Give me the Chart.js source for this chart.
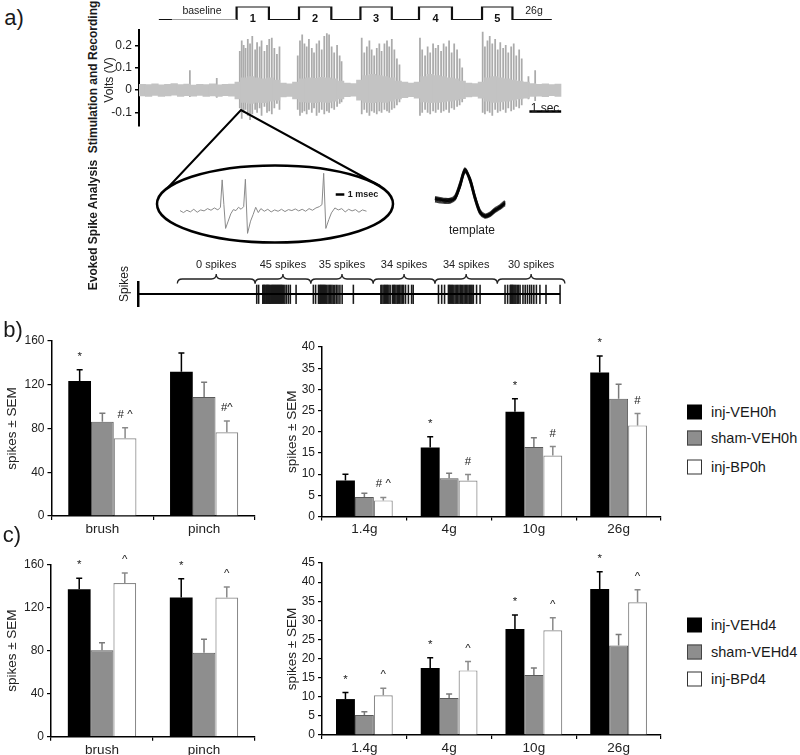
<!DOCTYPE html>
<html><head><meta charset="utf-8">
<script src="https://cdn.jsdelivr.net/npm/chart.js@4.4.1/dist/chart.umd.min.js"></script>
<style>
html,body{margin:0;padding:0;background:#fff;}
#fig{position:relative;width:800px;height:755px;overflow:hidden;font-family:"Liberation Sans",Arial,sans-serif;color:#1a1a1a;}
#fig canvas{position:absolute;}
.t{position:absolute;white-space:nowrap;line-height:1;transform:translate(-50%,-50%);}
.r{transform:translate(-50%,-50%) rotate(-90deg);}
.lg{position:absolute;left:687px;width:15px;height:15px;box-sizing:border-box;transform:translateY(-50%);}
.lt{position:absolute;left:711px;font-size:14.5px;line-height:1;transform:translateY(-50%);white-space:nowrap;}
</style></head><body>
<div id="fig">
<canvas id="cStim" width="423" height="30" style="left:139px;top:0px"></canvas>
<canvas id="cTrace" width="462" height="116" style="left:100px;top:20px"></canvas>
<canvas id="cZoom" width="250" height="145" style="left:150px;top:105px"></canvas>
<canvas id="cTmpl" width="80" height="65" style="left:430px;top:160px"></canvas>
<canvas id="cRaster" width="470" height="52" style="left:100px;top:255px"></canvas>
<canvas id="cB1" width="256" height="210" style="left:0px;top:330px"></canvas>
<canvas id="cB2" width="383" height="210" style="left:280px;top:330px"></canvas>
<canvas id="cC1" width="256" height="205" style="left:0px;top:550px"></canvas>
<canvas id="cC2" width="383" height="205" style="left:280px;top:550px"></canvas>

<div class="t" style="left:14px;top:18px;font-size:22px">a)</div>
<div class="t" style="left:13px;top:330px;font-size:22px">b)</div>
<div class="t" style="left:12px;top:535px;font-size:22px">c)</div>
<div class="t r" style="left:93px;top:77px;font-size:12px;font-weight:bold">Stimulation and Recording</div>
<div class="t r" style="left:109px;top:80px;font-size:12px">Volts (V)</div>
<div class="t r" style="left:93px;top:225px;font-size:12px;font-weight:bold">Evoked Spike Analysis</div>
<div class="t r" style="left:124px;top:284px;font-size:12px">Spikes</div>
<div class="t" style="left:202px;top:10px;font-size:10.5px">baseline</div>
<div class="t" style="left:534px;top:10px;font-size:10.5px">26g</div>
<div class="t" style="left:545px;top:108px;font-size:12px">1 sec</div>
<div class="t" style="left:363px;top:194px;font-size:9px;font-weight:bold">1 msec</div>
<div class="t" style="left:472px;top:230px;font-size:12px">template</div>

<div class="lg" style="top:412px;background:#000"></div><div class="lt" style="top:412px">inj-VEH0h</div>
<div class="lg" style="top:438px;background:#8e8e8e;border:1px solid #444"></div><div class="lt" style="top:438px">sham-VEH0h</div>
<div class="lg" style="top:467px;background:#fff;border:1px solid #333"></div><div class="lt" style="top:467px">inj-BP0h</div>
<div class="lg" style="top:625px;background:#000"></div><div class="lt" style="top:625px">inj-VEHd4</div>
<div class="lg" style="top:652px;background:#8e8e8e;border:1px solid #444"></div><div class="lt" style="top:652px">sham-VEHd4</div>
<div class="lg" style="top:679px;background:#fff;border:1px solid #333"></div><div class="lt" style="top:679px">inj-BPd4</div>
</div>
<script>
Chart.defaults.font.family='"Liberation Sans", Arial, sans-serif';
Chart.defaults.color='#222';

// ================= DATA =================
// panel a: recording trace (seconds, volts)
const voltTicks=[-0.1,0,0.1,0.2];
const noiseBinSec=0.2;
const noiseHi=[0.026,0.024,0.028,0.023,0.026,0.029,0.024,0.027,0.022,0.026,0.025,0.028,0.023,0.026,0.027,
 0.036,0.055,0.060,0.055,0.050,0.055,0.045, 0.031,0.028,
 0.036,0.050,0.055,0.053,0.057,0.055,0.050,0.040, 0.031,0.029,
 0.045,0.065,0.070,0.065,0.060,0.055,0.040, 0.036,0.031,0.036,
 0.060,0.070,0.065,0.060,0.055,0.050,0.040, 0.031,0.029,0.036,
 0.055,0.060,0.055,0.050,0.045,0.040,0.036, 0.029,0.026,0.028,0.025,0.027];
const noiseLo=[-0.026,-0.029,-0.024,-0.028,-0.026,-0.023,-0.029,-0.025,-0.027,-0.024,-0.028,-0.026,-0.029,-0.025,-0.027,
 -0.040,-0.055,-0.060,-0.055,-0.057,-0.050,-0.045, -0.031,-0.028,
 -0.040,-0.053,-0.055,-0.057,-0.053,-0.055,-0.050,-0.040, -0.030,-0.027,
 -0.045,-0.055,-0.057,-0.053,-0.055,-0.050,-0.040, -0.034,-0.030,-0.036,
 -0.053,-0.057,-0.055,-0.053,-0.050,-0.045,-0.038, -0.031,-0.028,-0.036,
 -0.050,-0.055,-0.053,-0.050,-0.045,-0.040,-0.036, -0.029,-0.027,-0.030,-0.025,-0.028];
const spikeT=[1.59,2.43,
 3.15,3.21,3.27,3.33,3.40,3.47,3.54,3.63,3.69,3.77,3.83,3.92,4.00,4.07,4.15,4.23,4.31,4.39,
 4.96,5.03,5.10,5.17,5.24,5.31,5.40,5.47,5.55,5.63,5.71,5.79,5.87,5.94,6.02,6.10,6.19,6.27,6.33,
 6.96,7.04,7.12,7.20,7.27,7.35,7.43,7.51,7.58,7.67,7.75,7.82,7.90,7.98,8.06,8.14,
 8.78,8.85,8.94,9.02,9.10,9.19,9.27,9.35,9.44,9.52,9.60,9.69,9.77,9.85,9.94,10.02,10.10,
 10.74,10.81,10.89,10.96,11.04,11.13,11.21,11.29,11.38,11.46,11.54,11.63,11.71,11.79,11.88,11.96,
 12.17,12.38];
const spikeHi=[0.087,0.053,
 0.173,0.22,0.2,0.187,0.227,0.207,0.24,0.18,0.213,0.193,0.22,0.173,0.2,0.227,0.233,0.187,0.16,0.193,
 0.153,0.22,0.247,0.207,0.193,0.227,0.187,0.167,0.207,0.22,0.18,0.24,0.253,0.247,0.193,0.167,0.2,0.153,0.127,
 0.233,0.167,0.193,0.22,0.18,0.153,0.187,0.207,0.173,0.207,0.22,0.193,0.227,0.18,0.14,0.113,
 0.233,0.18,0.153,0.193,0.167,0.207,0.187,0.2,0.173,0.207,0.193,0.22,0.167,0.207,0.18,0.14,0.1,
 0.26,0.193,0.22,0.24,0.207,0.227,0.18,0.213,0.187,0.2,0.167,0.193,0.207,0.153,0.18,0.14,
 0.06,0.087];
const spikeLo=[-0.03,-0.033,
 -0.08,-0.127,-0.1,-0.087,-0.113,-0.133,-0.107,-0.087,-0.1,-0.08,-0.113,-0.073,-0.1,-0.093,-0.107,-0.08,-0.06,-0.087,
 -0.087,-0.113,-0.1,-0.093,-0.107,-0.087,-0.1,-0.08,-0.113,-0.1,-0.087,-0.107,-0.093,-0.1,-0.08,-0.087,-0.073,-0.06,-0.053,
 -0.107,-0.087,-0.1,-0.113,-0.093,-0.1,-0.107,-0.093,-0.1,-0.087,-0.093,-0.1,-0.087,-0.08,-0.067,-0.053,
 -0.113,-0.1,-0.087,-0.1,-0.107,-0.093,-0.1,-0.087,-0.1,-0.093,-0.087,-0.1,-0.08,-0.087,-0.073,-0.067,-0.053,
 -0.1,-0.107,-0.093,-0.1,-0.113,-0.087,-0.1,-0.093,-0.087,-0.1,-0.08,-0.093,-0.087,-0.073,-0.08,-0.067,
 -0.04,-0.047];
const scaleBarSec=[12.2,13.2];
const scaleBarVolt=-0.096;

// stimulation protocol (seconds)
const preStart=0.62, baselineStart=1.03, protocolEnd=12.9;
const stimOn=[3.05,5.0,6.92,8.75,10.72];
const stimOff=[4.06,6.01,7.9,9.78,11.67];
const stimLabels=['1','2','3','4','5'];

// zoomed trace (ms, volts)
const zoomT=[0,0.4,0.8,1.2,1.6,2.0,2.4,2.8,3.2,3.6,4.0,4.4,4.7,4.9,5.1,5.3,5.6,5.9,6.2,6.5,6.8,7.1,7.4,7.6,7.85,8.2,8.5,8.8,9.1,9.4,9.8,10.2,10.6,11.0,11.4,11.8,12.2,12.6,13.0,13.4,13.8,14.2,14.6,15.0,15.4,15.8,16.2,16.5,16.7,16.95,17.3,17.6,18.0,18.4,18.8,19.2,19.6,20.0,20.4,20.8,21.2,21.7];
const zoomV=[0.002,-0.004,0.003,-0.002,0.006,-0.003,0.004,0.001,0.008,0.003,0.010,0.004,0.012,0.095,0.02,-0.052,-0.03,-0.008,0.005,0.002,0.012,0.006,0.014,0.097,-0.067,-0.03,-0.01,0.012,-0.004,0.008,0.000,0.006,-0.002,0.004,0.000,0.006,-0.001,0.005,0.002,0.007,0.001,0.006,0.000,0.008,0.003,0.010,0.014,0.02,0.115,-0.052,-0.025,-0.005,0.010,0.004,0.008,-0.002,0.006,0.001,0.005,-0.003,0.004,0.000];
const msBar=[18.1,19.1], msBarVolt=0.051;

// spike template overlays
const tmplA=[0.10,0.07,0.04,0.04,0.14,0.57,1.03,0.72,0.12,-0.34,-0.48,-0.42,-0.28,-0.18,-0.03];
const tmplB=[0.03,0.00,-0.03,-0.03,0.07,0.50,1.00,0.67,0.07,-0.40,-0.53,-0.47,-0.33,-0.23,-0.10];
const tmplC=[-0.05,-0.08,-0.10,-0.09,0.01,0.44,0.95,0.62,0.01,-0.46,-0.59,-0.54,-0.40,-0.30,-0.17];
const tmplD=[0.07,0.03,-0.06,0.00,0.05,0.43,0.93,0.73,0.13,-0.37,-0.56,-0.51,-0.37,-0.25,-0.13];
const tmplE=[-0.02,0.03,0.00,-0.06,0.10,0.54,1.06,0.63,0.03,-0.43,-0.51,-0.45,-0.31,-0.27,-0.07];
const tmplF=[0.05,-0.03,0.02,0.03,0.04,0.47,0.98,0.69,0.09,-0.41,-0.55,-0.49,-0.35,-0.21,-0.11];

// detected spike raster (seconds)
const rasterT=[3.71,3.77,3.90,3.92,3.95,3.97,4.00,4.02,4.05,4.07,4.10,4.12,4.15,4.18,4.21,4.24,4.27,4.30,4.33,4.36,4.39,4.42,4.45,4.48,4.51,4.55,4.59,4.64,4.70,4.76,4.94,
 5.48,5.55,5.64,5.66,5.69,5.71,5.74,5.77,5.80,5.83,5.86,5.90,5.94,5.98,6.02,6.06,6.10,6.15,6.20,6.25,6.31,6.38,6.73,
 7.59,7.62,7.66,7.70,7.73,7.77,7.80,7.84,7.88,7.95,7.99,8.02,8.06,8.10,8.14,8.18,8.22,8.26,8.30,8.36,8.45,8.55,8.60,9.39,
 9.49,9.58,9.70,9.73,9.76,9.80,9.83,9.87,9.91,9.95,9.99,10.03,10.07,10.11,10.15,10.19,10.23,10.27,10.31,10.35,10.38,10.41,10.44,10.48,10.58,10.69,
 11.47,11.55,11.63,11.65,11.67,11.70,11.72,11.75,11.78,11.81,11.85,11.89,11.94,12.03,12.10,12.17,12.24,12.30,12.37,12.45,12.56,12.75,13.19];
const rasterEnd=13.19;
const braceFrom=[1.23,3.66,5.40,7.35,9.28,11.23];
const braceTo=[3.66,5.40,7.35,9.28,11.23,13.34];
const braceLabels=['0 spikes','45 spikes','35 spikes','34 spikes','34 spikes','30 spikes'];

// panels b and c
const touchCats=['brush','pinch'];
const forceCats=['1.4g','4g','10g','26g'];
const b_injVEH0h_touch=[123.4,131.9], b_injVEH0h_touch_sem=[10.3,17.1];
const b_shamVEH0h_touch=[86.2,108.8], b_shamVEH0h_touch_sem=[7.7,13.4];
const b_injBP0h_touch=[71.0,76.5],   b_injBP0h_touch_sem=[9.7,10.4];
const b_injVEH0h_force=[8.5,16.3,24.7,34.0],  b_injVEH0h_force_sem=[1.5,2.5,3.1,3.9];
const b_shamVEH0h_force=[4.6,9.0,16.4,27.8], b_shamVEH0h_force_sem=[0.9,1.2,2.2,3.4];
const b_injBP0h_force=[3.8,8.5,14.4,21.5],   b_injBP0h_force_sem=[0.7,1.4,2.1,2.8];
const c_injVEHd4_touch=[137.1,129.3], c_injVEHd4_touch_sem=[10.2,17.4];
const c_shamVEHd4_touch=[80.4,77.9],  c_shamVEHd4_touch_sem=[7.0,12.7];
const c_injBPd4_touch=[142.7,129.3],  c_injBPd4_touch_sem=[9.3,9.7];
const c_injVEHd4_force=[9.4,17.5,27.7,38.2],  c_injVEHd4_force_sem=[1.7,2.7,3.7,4.5];
const c_shamVEHd4_force=[5.2,9.7,15.7,23.4], c_shamVEHd4_force_sem=[0.9,1.0,1.8,2.9];
const c_injBPd4_force=[10.4,16.9,27.4,34.7], c_injBPd4_force_sem=[1.8,2.3,3.3,3.3];
const b_touch_annVEH=['*',''], b_touch_annBP=['# ^','#^'];
const b_force_annVEH=['','*','*','*'], b_force_annBP=['# ^','#','#','#'];
const c_touch_annVEH=['*','*'], c_touch_annBP=['^','^'];
const c_force_annVEH=['*','*','*','*'], c_force_annBP=['^','^','^','^'];

// ================= CHARTS =================
const base={responsive:false,animation:false,devicePixelRatio:1,events:[],plugins:{legend:{display:false},tooltip:{enabled:false}}};

// stimulus protocol
(function(){
  const steps=[{x:stimOn[0],y:0}];
  stimOn.forEach((on,i)=>{steps.push({x:on,y:1},{x:stimOff[i],y:1},{x:stimOff[i],y:0});
    if(i<stimOn.length-1) steps.push({x:stimOn[i+1],y:0});});
  steps.push({x:protocolEnd,y:0});
  const stimLbl={id:'stimLbl',afterDatasetsDraw(ch){const c=ch.ctx,xs=ch.scales.x,ys=ch.scales.y;
    c.save();c.fillStyle='#111';c.font='bold 11px "Liberation Sans"';c.textAlign='center';c.textBaseline='middle';
    stimLabels.forEach((s,i)=>c.fillText(s,xs.getPixelForValue((stimOn[i]+stimOff[i])/2),ys.getPixelForValue(0)-1));c.restore();}};
  new Chart(document.getElementById('cStim'),{type:'line',data:{datasets:[
    {data:[{x:preStart,y:0},{x:baselineStart,y:0}],borderColor:'#111',borderWidth:2.2,pointRadius:0},
    {data:[{x:baselineStart,y:0},{x:stimOn[0],y:0}],borderColor:'#a0a0a0',borderWidth:2.2,pointRadius:0},
    {data:steps,borderColor:'#111',borderWidth:2.2,pointRadius:0,borderJoinStyle:'miter'}]},
    options:{...base,layout:{padding:{top:6.5,bottom:10,left:0,right:0.6}},
      scales:{x:{type:'linear',min:0,max:13.2,display:false},y:{min:0,max:1,display:false}}},plugins:[stimLbl]});
})();

// recording trace
new Chart(document.getElementById('cTrace'),{type:'bar',data:{datasets:[
  {type:'bar',data:noiseHi.map((h,i)=>({x:(i+0.5)*noiseBinSec,y:[noiseLo[i],h]})),backgroundColor:'#c3c3c3',barThickness:6.6,grouped:false,borderWidth:0},
  {type:'bar',data:spikeT.map((t,i)=>({x:t,y:[spikeLo[i],spikeHi[i]]})),backgroundColor:'#ababab',barThickness:1.1,grouped:false,borderWidth:0},
  {type:'line',data:scaleBarSec.map(t=>({x:t,y:scaleBarVolt})),borderColor:'#000',borderWidth:2.5,pointRadius:0}]},
  options:{...base,layout:{padding:{top:8,bottom:1,left:0,right:0.6}},
    scales:{x:{type:'linear',min:0,max:13.2,display:false,offset:false},
      y:{min:-0.16,max:0.268,afterBuildTicks(s){s.ticks=voltTicks.map(v=>({value:v}));},
        ticks:{font:{size:12},color:'#222',padding:3,callback:v=>String(v)},
        grid:{drawOnChartArea:false,drawTicks:true,tickLength:4,color:'#000',lineWidth:1.5},
        border:{color:'#000',width:2},afterFit(s){s.width=39;}}}}});

// zoomed trace + ellipse + triangle
const zoomDeco={id:'zoomDeco',beforeDatasetsDraw(ch){const c=ch.ctx;c.save();c.strokeStyle='#000';
  c.lineWidth=2.5;c.beginPath();c.ellipse(125,99,118,38.5,0,0,Math.PI*2);c.stroke();
  c.lineWidth=2;c.beginPath();c.moveTo(18,82.5);c.lineTo(91,5);c.lineTo(230,81);c.stroke();c.restore();}};
new Chart(document.getElementById('cZoom'),{type:'line',data:{datasets:[
  {data:zoomT.map((t,i)=>({x:t,y:zoomV[i]})),borderColor:'#8a8a8a',borderWidth:1,pointRadius:0},
  {data:msBar.map(t=>({x:t,y:msBarVolt})),borderColor:'#000',borderWidth:2.5,pointRadius:0}]},
  options:{...base,layout:{padding:{top:65,bottom:14,left:30,right:33.3}},
    scales:{x:{type:'linear',min:0,max:21.7,display:false},y:{min:-0.075,max:0.125,display:false}}},plugins:[zoomDeco]});

// template overlay
new Chart(document.getElementById('cTmpl'),{type:'line',data:{labels:tmplA.map((_,i)=>i),datasets:
  [tmplA,tmplB,tmplC,tmplD,tmplE,tmplF].map(d=>({data:d,borderColor:'rgba(0,0,0,0.75)',borderWidth:2,pointRadius:0,tension:0.3}))},
  options:{...base,layout:{padding:{top:5,bottom:5,left:5,right:5}},
    scales:{x:{display:false},y:{min:-0.667,max:1.167,display:false}}}});

// raster with braces
const braces={id:'braces',afterDatasetsDraw(ch){const c=ch.ctx,xs=ch.scales.x;c.save();
  c.strokeStyle='#222';c.lineWidth=1.3;c.fillStyle='#222';c.font='11px "Liberation Sans"';c.textAlign='center';c.textBaseline='middle';
  const yEnd=28.5,yMain=24,yTip=19,r=5;
  braceFrom.forEach((f,i)=>{const x0=xs.getPixelForValue(f),x1=xs.getPixelForValue(braceTo[i]),xm=(x0+x1)/2;
    c.beginPath();c.moveTo(x0,yEnd);c.quadraticCurveTo(x0,yMain,x0+r,yMain);c.lineTo(xm-r,yMain);
    c.quadraticCurveTo(xm,yMain,xm,yTip);c.quadraticCurveTo(xm,yMain,xm+r,yMain);c.lineTo(x1-r,yMain);
    c.quadraticCurveTo(x1,yMain,x1,yEnd);c.stroke();c.fillText(braceLabels[i],xm,10);});
  c.restore();}};
new Chart(document.getElementById('cRaster'),{type:'bar',data:{datasets:[
  {type:'line',data:[{x:0,y:0},{x:rasterEnd,y:0}],borderColor:'#000',borderWidth:2,pointRadius:0},
  {type:'bar',data:rasterT.map(t=>({x:t,y:[-0.8,0.75]})),backgroundColor:'#1a1a1a',barThickness:0.9,grouped:false,borderWidth:0}]},
  options:{...base,layout:{padding:{top:27,bottom:1,left:0,right:0}},
    scales:{x:{type:'linear',min:0,max:13.5,display:false,offset:false},
      y:{min:-1,max:1,ticks:{display:false},grid:{display:false},border:{color:'#000',width:2.5},afterFit(s){s.width=38;}}}},plugins:[braces]});

// bar charts with SEM whiskers
const errPlugin={id:'errBars',afterDatasetsDraw(ch){const c=ch.ctx,ys=ch.scales.y;
  ch.data.datasets.forEach((ds,i)=>{ch.getDatasetMeta(i).data.forEach((bar,j)=>{
    const top=ys.getPixelForValue(ds.data[j]+ds.sem[j]);
    c.save();c.strokeStyle=ds.errColor;c.lineWidth=1.5;c.beginPath();
    c.moveTo(bar.x,bar.y);c.lineTo(bar.x,top);c.moveTo(bar.x-3,top);c.lineTo(bar.x+3,top);c.stroke();
    if(ds.ann&&ds.ann[j]){c.fillStyle='#222';c.font='11.5px "Liberation Sans"';c.textAlign='center';c.textBaseline='alphabetic';c.fillText(ds.ann[j],bar.x,top-10);}
    c.restore();});});}};
const STY={veh:{fill:'#000',stroke:'#000',bw:0,err:'#000'},sham:{fill:'#8e8e8e',stroke:'#5a5a5a',bw:1,err:'#7a7a7a'},bp:{fill:'#fff',stroke:'#8a8a8a',bw:1.2,err:'#8a8a8a'}};
function series(label,vals,sem,ann,st){return {label,data:vals,sem,ann,backgroundColor:st.fill,borderColor:st.stroke,borderWidth:st.bw,errColor:st.err,categoryPercentage:0.67,barPercentage:1};}
function barChart(id,cats,sets,yMax,step,g){
  return new Chart(document.getElementById(id),{type:'bar',data:{labels:cats,datasets:sets},
    options:{...base,layout:{padding:{top:g.top,right:g.right,left:0,bottom:0}},
      scales:{
        x:{grid:{drawOnChartArea:false,drawTicks:true,tickLength:4,color:'#000',lineWidth:1.2,offset:true},border:{color:'#000',width:1.5},
           ticks:{font:{size:13.5},color:'#222',padding:1},afterFit(s){s.height=g.xh;}},
        y:{min:0,max:yMax,ticks:{stepSize:step,font:{size:12},color:'#222',padding:3},
           grid:{drawOnChartArea:false,drawTicks:true,tickLength:4,color:'#000',lineWidth:1.2},border:{color:'#000',width:1.5},
           title:{display:true,text:'spikes ± SEM',font:{size:13.5},color:'#222',padding:{top:4,bottom:0}},afterFit(s){s.width=g.yw;}}}},
    plugins:[errPlugin]});
}
barChart('cB1',touchCats,[
  series('inj-VEH0h',b_injVEH0h_touch,b_injVEH0h_touch_sem,b_touch_annVEH,STY.veh),
  series('sham-VEH0h',b_shamVEH0h_touch,b_shamVEH0h_touch_sem,null,STY.sham),
  series('inj-BP0h',b_injBP0h_touch,b_injBP0h_touch_sem,b_touch_annBP,STY.bp)],160,40,{top:11,right:1,xh:24,yw:51.5});
barChart('cB2',forceCats,[
  series('inj-VEH0h',b_injVEH0h_force,b_injVEH0h_force_sem,b_force_annVEH,STY.veh),
  series('sham-VEH0h',b_shamVEH0h_force,b_shamVEH0h_force_sem,null,STY.sham),
  series('inj-BP0h',b_injBP0h_force,b_injBP0h_force_sem,b_force_annBP,STY.bp)],40,5,{top:17,right:2,xh:23.5,yw:42});
barChart('cC1',touchCats,[
  series('inj-VEHd4',c_injVEHd4_touch,c_injVEHd4_touch_sem,c_touch_annVEH,STY.veh),
  series('sham-VEHd4',c_shamVEHd4_touch,c_shamVEHd4_touch_sem,null,STY.sham),
  series('inj-BPd4',c_injBPd4_touch,c_injBPd4_touch_sem,c_touch_annBP,STY.bp)],160,40,{top:14.5,right:1,xh:18.3,yw:51});
barChart('cC2',forceCats,[
  series('inj-VEHd4',c_injVEHd4_force,c_injVEHd4_force_sem,c_force_annVEH,STY.veh),
  series('sham-VEHd4',c_shamVEHd4_force,c_shamVEHd4_force_sem,null,STY.sham),
  series('inj-BPd4',c_injBPd4_force,c_injBPd4_force_sem,c_force_annBP,STY.bp)],45,5,{top:13,right:2,xh:20,yw:42});
</script>
</body></html>
